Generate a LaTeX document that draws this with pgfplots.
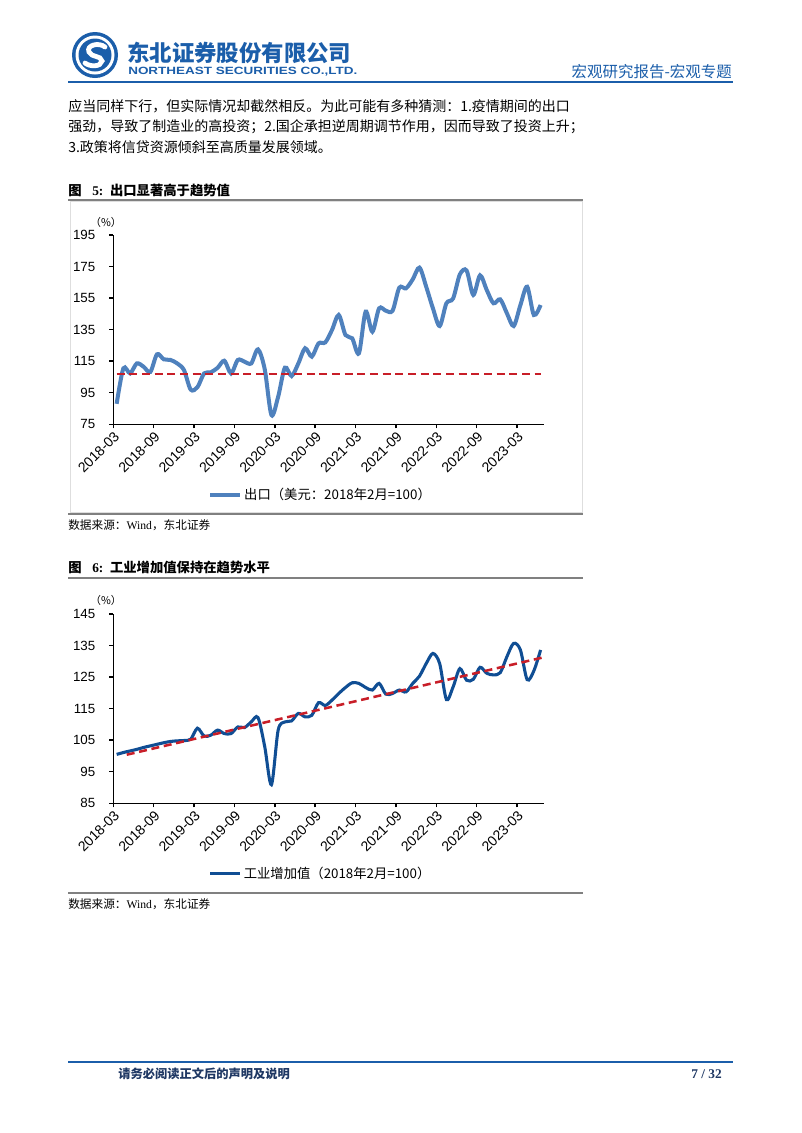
\documentclass[border=0pt]{standalone}
\usepackage{graphicx}
\usepackage{pgfplots}
\pgfplotsset{compat=1.18}
\usepackage{fontspec}
\setmainfont{Liberation Serif}
\newfontfamily\cjk{Noto Sans CJK SC}
\newfontfamily\arial{Liberation Sans}

\definecolor{hdrblue}{RGB}{27,94,170}
\definecolor{lineA}{RGB}{79,129,189}
\definecolor{lineB}{RGB}{16,78,148}
\definecolor{trendred}{RGB}{200,30,40}
\definecolor{rulegray}{RGB}{128,128,128}
\definecolor{framegray}{RGB}{222,222,222}
\definecolor{footblue}{RGB}{31,56,100}

\pgfplotsset{pagechart/.style={
  scale only axis, width=323pt, height=142pt, anchor=south west,
  xmin=0, xmax=64,
  axis x line=bottom, axis y line=left,
  axis line style={line width=1.1pt,-},
  tick align=outside, major tick length=3pt,
  tick style={line width=1.1pt,black},
  xtick={0,6,...,60},
  xticklabels={2018-03,2018-09,2019-03,2019-09,2020-03,2020-09,2021-03,2021-09,2022-03,2022-09,2023-03},
  xticklabel style={rotate=45,anchor=north east,inner sep=1pt,font=\arial\fontsize{10.5}{12}\selectfont},
  yticklabel style={font=\arial\fontsize{10}{12}\selectfont,xshift=-7pt},
  /pgf/number format/assume math mode=true,
  legend style={draw=none,fill=none,at={(0.482,-0.373)},anchor=center,
    font=\cjk\fontsize{10}{12}\selectfont,legend cell align=left},
  legend image code/.code={\draw[##1] (0pt,0pt) -- (22pt,0pt);},
}}

\begin{document}
\begin{tikzpicture}[x=0.75pt,y=-0.75pt]
\useasboundingbox (0,0) rectangle (802,1133);
\fill[white] (0,0) rectangle (802,1133);

% header
\fill[hdrblue] (95,55) circle (23);
\fill[white] (95,55) circle (19.5);
\fill[hdrblue] (95,55) circle (16.5);
\draw[white,line width=3.6pt,line cap=round] (105,47) .. controls (99,42) and (86,45) .. (89,52)
  .. controls (92,58) and (101,55) .. (102,61) .. controls (101,67) and (90,67) .. (85,63);
\node[anchor=west,inner sep=0pt,text=hdrblue] at (127,53)
  {\resizebox{168pt}{!}{\cjk\bfseries 东北证券股份有限公司}};
\node[anchor=west,inner sep=0pt,text=hdrblue] at (128,72)
  {\resizebox{171.75pt}{5.5pt}{\arial\bfseries NORTHEAST SECURITIES CO.,LTD.}};
\node[anchor=east,inner sep=0pt,text=hdrblue] at (732,72)
  {\cjk\fontsize{11.6}{13}\selectfont 宏观研究报告-宏观专题};
\draw[hdrblue,line width=1.2pt] (68,82) -- (733,82);

% body text
\begin{scope}[every node/.style={anchor=west,inner sep=0pt,font=\cjk\fontsize{10.5}{12}\selectfont}]
\node at (68,106) {应当同样下行，但实际情况却截然相反。为此可能有多种猜测：1.疫情期间的出口};
\node at (68,127) {强劲，导致了制造业的高投资；2.国企承担逆周期调节作用，因而导致了投资上升；};
\node at (68,147) {3.政策将信贷资源倾斜至高质量发展领域。};
\end{scope}

% figure 5
\node[anchor=west,inner sep=0pt] at (68,190)
  {\fontsize{10}{12}\selectfont{\cjk\bfseries 图}\hspace{8pt}\textbf{5:}\hspace{5pt}{\cjk\bfseries 出口显著高于趋势值}};
\draw[framegray,line width=0.75pt] (70,201) rectangle (582,512);
\draw[rulegray,line width=1.5pt] (68,200) -- (583,200);
\draw[rulegray,line width=1.5pt] (68,514) -- (583,514);
\node[inner sep=0pt] at (106,222) {\cjk\fontsize{8}{9}\selectfont （\%）};

\begin{axis}[pagechart, at={(84.975pt,-318.225pt)},
  ymin=75, ymax=195, ytick={75,95,...,195}]
\addplot[lineA,line width=3pt,smooth] coordinates {
(0.5,88) (1.5,110.5) (2.5,107.3) (3.5,113.6) (4.5,111.5) (5.5,108.2) (6.5,119.4) (7.5,116.2)
(8.5,115.8) (9.5,113.6) (10.5,109.4) (11.5,97) (12.5,98.5) (13.5,107.3) (14.5,108) (15.5,110.8)
(16.5,115.3) (17.5,107.3) (18.5,115.8) (19.5,114.7) (20.5,113.6) (21.5,122.5) (22.5,110) (23.5,80.9)
(24.5,92.5) (25.5,110.9) (26.5,105.6) (27.5,113.6) (28.5,123.2) (29.5,117.9) (30.5,126.3) (31.5,126.9)
(32.5,134.8) (33.5,144.3) (34.5,131.6) (35.5,129.5) (36.5,120) (37.5,146.4) (38.5,133.7) (39.5,148.5)
(40.5,147) (41.5,147) (42.5,161.6) (43.5,161.2) (44.5,166.9) (45.5,174.3) (46.5,162.2) (47.5,148.5)
(48.5,137.3) (49.5,151.7) (50.5,154.8) (51.5,170) (52.5,172.5) (53.5,157) (54.5,169.4) (55.5,160.1)
(56.5,151.7) (57.5,154.2) (58.5,145.3) (59.5,137.3) (60.5,150.6) (61.5,162.2) (62.5,144.3) (63.5,150.6)
};
\addlegendentry{出口（美元：2018年2月=100）}
\addplot[trendred,line width=1.9pt,dash pattern=on 6pt off 3.5pt,forget plot] coordinates {
(0.5,107) (63.5,107)
};
\end{axis}
\node[anchor=west,inner sep=0pt] at (68,525)
  {\fontsize{8.75}{10}\selectfont{\cjk 数据来源：}Wind{\cjk ，东北证券}};

% figure 6
\node[anchor=west,inner sep=0pt] at (68,567)
  {\fontsize{10}{12}\selectfont{\cjk\bfseries 图}\hspace{8pt}\textbf{6:}\hspace{5pt}{\cjk\bfseries 工业增加值保持在趋势水平}};
\draw[rulegray,line width=1.5pt] (68,578) -- (583,578);
\draw[rulegray,line width=1.5pt] (68,893) -- (583,893);
\node[inner sep=0pt] at (106,600) {\cjk\fontsize{8}{9}\selectfont （\%）};

\begin{axis}[pagechart, at={(84.975pt,-602.475pt)},
  ymin=85, ymax=145, ytick={85,95,...,145}]
\addplot[lineB,line width=2.3pt,smooth] coordinates {
(0.5,100.5) (1.5,101.1) (2.5,101.6) (3.5,102.1) (4.5,102.7) (5.5,103.2) (6.5,103.7) (7.5,104.2)
(8.5,104.6) (9.5,104.8) (10.5,104.9) (11.5,105.3) (12.5,108.8) (13.5,106.3) (14.5,106.6) (15.5,108.2)
(16.5,107.1) (17.5,107.1) (18.5,109.2) (19.5,109) (20.5,110.8) (21.5,112.2) (22.5,103) (23.5,90.9)
(24.5,108.2) (25.5,110.8) (26.5,111.1) (27.5,113.5) (28.5,112.4) (29.5,112.9) (30.5,116.9) (31.5,116)
(32.5,117.7) (33.5,119.8) (34.5,121.7) (35.5,123.2) (36.5,123) (37.5,121.7) (38.5,120.9) (39.5,123)
(40.5,119.6) (41.5,119.8) (42.5,120.9) (43.5,120.3) (44.5,123) (45.5,125.3) (46.5,129.3) (47.5,132.5)
(48.5,129.3) (49.5,117.9) (50.5,121.9) (51.5,127.7) (52.5,124) (53.5,124.3) (54.5,128.1) (55.5,126.2)
(56.5,125.7) (57.5,126.4) (58.5,131.5) (59.5,135.7) (60.5,133.6) (61.5,124.2) (62.5,127) (63.5,133.6)
};
\addlegendentry{工业增加值（2018年2月=100）}
\addplot[trendred,line width=1.9pt,dash pattern=on 6pt off 3.5pt,forget plot] coordinates {
(2,100.4) (64,131.3)
};
\end{axis}
\node[anchor=west,inner sep=0pt] at (68,904)
  {\fontsize{8.75}{10}\selectfont{\cjk 数据来源：}Wind{\cjk ，东北证券}};

% footer
\draw[hdrblue,line width=1.2pt] (68,1062) -- (733,1062);
\node[anchor=west,inner sep=0pt,text=footblue] at (118,1074)
  {\cjk\bfseries\fontsize{9.2}{11}\selectfont 请务必阅读正文后的声明及说明};
\node[anchor=east,inner sep=0pt,text=footblue] at (722,1074)
  {\bfseries\fontsize{10}{12}\selectfont 7 / 32};
\end{tikzpicture}
\end{document}
